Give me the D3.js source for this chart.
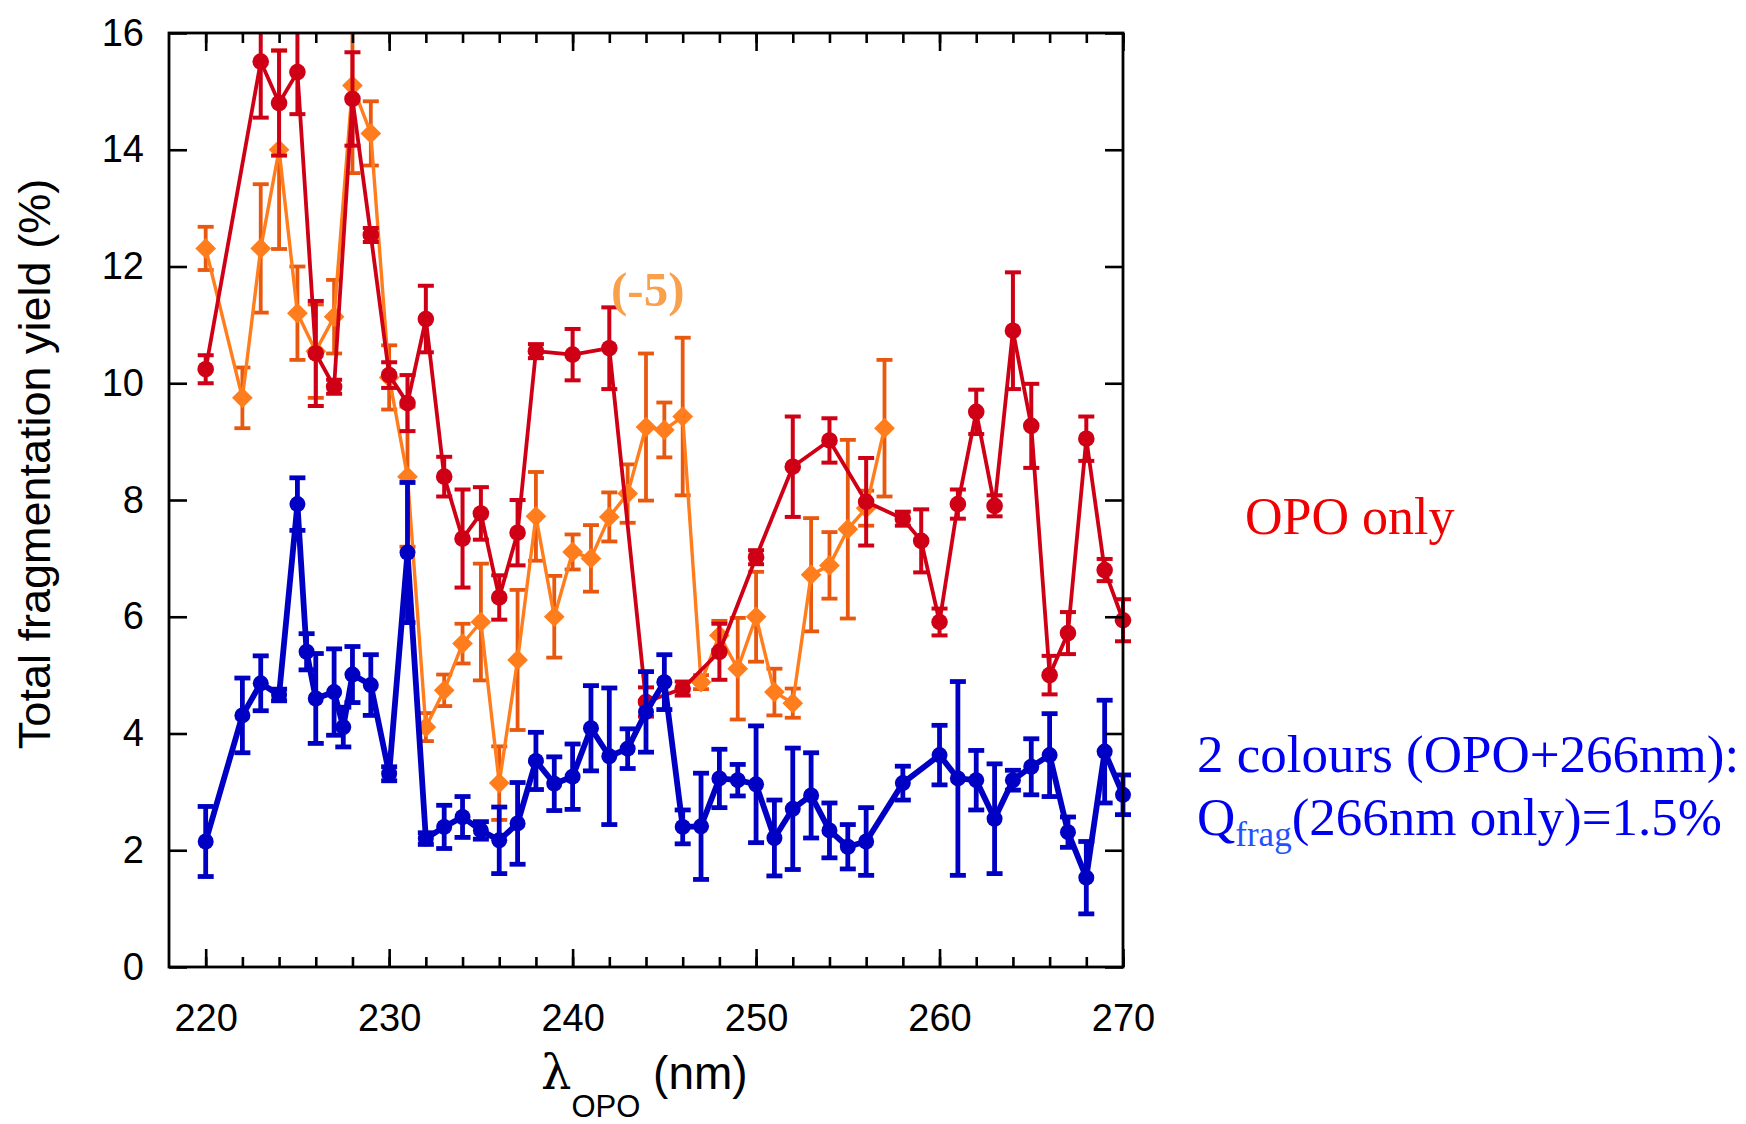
<!DOCTYPE html>
<html>
<head>
<meta charset="utf-8">
<script src="https://cdn.jsdelivr.net/npm/d3@7"></script>
<style>
  body { margin: 0; background: #fff; }
  svg { display: block; }
</style>
</head>
<body>
<svg id="chart"></svg>
<script>
// OPO only (red)
let opoWl = [220, 223, 224, 225, 226, 227, 228, 229, 230, 231, 232, 233, 234, 235, 236, 237, 238, 240, 242, 244,
    246, 248, 250, 252, 254, 256, 258, 259, 260, 261, 262, 263, 264, 265, 266, 267, 268, 269, 270];
let opoYield = [10.24, 15.51, 14.8, 15.33, 10.51, 9.94, 14.87, 12.54, 10.14, 9.66, 11.1, 8.4, 7.34, 7.77, 6.33, 7.44, 10.55, 10.49, 10.6, 4.54,
    4.77, 5.4, 7.02, 8.57, 9.02, 7.97, 7.68, 7.3, 5.91, 7.93, 9.51, 7.9, 10.9, 9.27, 5.0, 5.72, 9.05, 6.8, 5.94];
let opoErr = [0.24, 0.96, 0.9, 0.72, 0.9, 0.12, 0.8, 0.12, 0.22, 0.48, 0.57, 0.34, 0.84, 0.45, 0.38, 0.56, 0.12, 0.44, 0.7, 0.25,
    0.12, 0.48, 0.12, 0.86, 0.38, 0.75, 0.12, 0.54, 0.23, 0.25, 0.38, 0.18, 1.0, 0.72, 0.33, 0.36, 0.38, 0.19, 0.36];

// shifted series "(-5)" (orange)
let shiftWl = [220, 222, 223, 224, 225, 226, 227, 228, 229, 230, 231, 232, 233, 234, 235, 236, 237, 238, 239, 240,
    241, 242, 243, 244, 245, 246, 247, 248, 249, 250, 251, 252, 253, 254, 255, 256, 257];
let shiftYield = [12.31, 9.75, 12.31, 14.0, 11.2, 10.55, 11.14, 15.1, 14.28, 10.1, 8.4, 4.11, 4.74, 5.54, 5.91, 3.15, 5.26, 7.72, 6.0, 7.11,
    7.0, 7.71, 8.11, 9.25, 9.2, 9.43, 4.88, 5.68, 5.11, 6.0, 4.71, 4.52, 6.72, 6.88, 7.5, 7.86, 9.23];
let shiftErr = [0.37, 0.52, 1.1, 1.7, 0.8, 0.8, 0.63, 1.5, 0.55, 0.55, 1.2, 0.24, 0.27, 0.34, 1.0, 0.63, 1.2, 0.76, 0.7, 0.3,
    0.57, 0.42, 0.5, 1.26, 0.47, 1.35, 0.12, 0.25, 0.87, 0.77, 0.4, 0.25, 0.97, 0.57, 1.53, 0.3, 1.17];

// 2 colours OPO+266nm (blue)
let twoColWl = [220, 222, 223, 224, 225, 225.5, 226, 227, 227.5, 228, 229, 230, 231, 232, 233, 234, 235, 236, 237, 238,
    239, 240, 241, 242, 243, 244, 245, 246, 247, 248, 249, 250, 251, 252, 253, 254, 255, 256, 258, 260,
    261, 262, 263, 264, 265, 266, 267, 268, 269, 270];
let twoColYield = [2.15, 4.31, 4.86, 4.66, 7.93, 5.4, 4.6, 4.71, 4.11, 5.01, 4.83, 3.31, 7.1, 2.2, 2.4, 2.57, 2.34, 2.17, 2.46, 3.53,
    3.14, 3.26, 4.09, 3.61, 3.74, 4.37, 4.88, 2.4, 2.41, 3.23, 3.2, 3.13, 2.21, 2.71, 2.94, 2.34, 2.06, 2.15, 3.15, 3.63,
    3.23, 3.2, 2.54, 3.2, 3.43, 3.63, 2.31, 1.53, 3.69, 2.95];
let twoColErr = [0.6, 0.64, 0.47, 0.1, 0.45, 0.31, 0.77, 0.74, 0.34, 0.48, 0.52, 0.12, 1.2, 0.1, 0.37, 0.35, 0.15, 0.57, 0.7, 0.49,
    0.46, 0.56, 0.73, 1.17, 0.34, 0.69, 0.47, 0.29, 0.91, 0.5, 0.27, 1.0, 0.65, 1.04, 0.73, 0.47, 0.38, 0.58, 0.29, 0.51,
    1.66, 0.51, 0.94, 0.17, 0.48, 0.71, 0.26, 0.62, 0.88, 0.34];

let xMajor = [220, 230, 240, 250, 260, 270];
let xMinor = d3.range(220, 271, 2);
let yTicks = [0, 2, 4, 6, 8, 10, 12, 14, 16];

function drawChart() {
    let w = 1746, h = 1124;
    let left = 169, right = 1123, top = 33, bottom = 967;

    let svg = d3.select("#chart")
        .attr("width", w)
        .attr("height", h);

    let x = d3.scaleLinear().domain([218, 270]).range([left, right]);
    let y = d3.scaleLinear().domain([0, 16]).range([bottom, top]);

    // clip only at the top: bars above 16 get cut, end markers may overhang the right axis
    svg.append("defs").append("clipPath").attr("id", "plotclip")
        .append("rect")
        .attr("x", 0).attr("y", top)
        .attr("width", w).attr("height", bottom - top);

    let plot = svg.append("g").attr("clip-path", "url(#plotclip)");

    let zip = (xs, ys, es) => xs.map((v, i) => ({ x: v, y: ys[i], e: es[i] }));

    let series = [
        { data: zip(shiftWl, shiftYield, shiftErr), line: "#ff7d1c", err: "#e8580e", width: 3.4, errWidth: 3.8, marker: "diamond" },
        { data: zip(opoWl, opoYield, opoErr), line: "#cf0015", err: "#cf0015", width: 3.8, errWidth: 4, marker: "circle", r: 8.3 },
        { data: zip(twoColWl, twoColYield, twoColErr), line: "#0000c4", err: "#0000c4", width: 5.8, errWidth: 4.8, marker: "circle", r: 8 }
    ];

    let line = d3.line().x(d => x(d.x)).y(d => y(d.y));
    let cap = 8;

    series.forEach(s => {
        let g = plot.append("g");

        let bars = g.append("g").selectAll("g")
            .data(s.data)
            .enter()
            .append("g")
            .attr("stroke", s.err)
            .attr("stroke-width", s.errWidth);
        bars.append("line")
            .attr("x1", d => x(d.x)).attr("x2", d => x(d.x))
            .attr("y1", d => y(d.y + d.e)).attr("y2", d => y(d.y - d.e));
        bars.append("line")
            .attr("x1", d => x(d.x) - cap).attr("x2", d => x(d.x) + cap)
            .attr("y1", d => y(d.y + d.e)).attr("y2", d => y(d.y + d.e));
        bars.append("line")
            .attr("x1", d => x(d.x) - cap).attr("x2", d => x(d.x) + cap)
            .attr("y1", d => y(d.y - d.e)).attr("y2", d => y(d.y - d.e));

        g.append("path")
            .datum(s.data)
            .attr("fill", "none")
            .attr("stroke", s.line)
            .attr("stroke-width", s.width)
            .attr("stroke-linejoin", "round")
            .attr("d", line);

        if (s.marker == "circle") {
            g.append("g").selectAll("circle")
                .data(s.data)
                .enter()
                .append("circle")
                .attr("cx", d => x(d.x))
                .attr("cy", d => y(d.y))
                .attr("r", s.r)
                .attr("fill", s.line);
        } else {
            let sym = d3.symbol().type(d3.symbolSquare).size(215);
            g.append("g").selectAll("path")
                .data(s.data)
                .enter()
                .append("path")
                .attr("d", sym)
                .attr("transform", d => `translate(${x(d.x)},${y(d.y)}) rotate(45)`)
                .attr("fill", s.line);
        }
    });

    // axes, ticks point inward
    let axisFont = "'Liberation Sans', Arial, sans-serif";

    let xMinAxis = svg.append("g").attr("transform", `translate(0,${bottom})`)
        .call(d3.axisBottom(x).tickValues(xMinor).tickSize(-10).tickFormat(""));
    let xMajAxis = svg.append("g").attr("transform", `translate(0,${bottom})`)
        .call(d3.axisBottom(x).tickValues(xMajor).tickSize(-18).tickPadding(37).tickFormat(d3.format("d")));
    let xTopMin = svg.append("g").attr("transform", `translate(0,${top})`)
        .call(d3.axisTop(x).tickValues(xMinor).tickSize(-10).tickFormat(""));
    let xTopMaj = svg.append("g").attr("transform", `translate(0,${top})`)
        .call(d3.axisTop(x).tickValues(xMajor).tickSize(-18).tickFormat(""));
    let yAxis = svg.append("g").attr("transform", `translate(${left},0)`)
        .call(d3.axisLeft(y).tickValues(yTicks).tickSize(-18).tickPadding(25).tickFormat(d3.format("d")));
    let yRight = svg.append("g").attr("transform", `translate(${right},0)`)
        .call(d3.axisRight(y).tickValues(yTicks).tickSize(-18).tickFormat(""));

    [xMinAxis, xMajAxis, xTopMin, xTopMaj, yAxis, yRight].forEach(a => {
        a.select(".domain").remove();
        a.selectAll(".tick line").attr("stroke", "#000").attr("stroke-width", 2.6);
        a.selectAll(".tick text")
            .attr("fill", "#000")
            .style("font-family", axisFont)
            .style("font-size", "38px");
    });

    svg.append("rect")
        .attr("x", left).attr("y", top)
        .attr("width", right - left).attr("height", bottom - top)
        .attr("fill", "none")
        .attr("stroke", "#000")
        .attr("stroke-width", 2.8);

    // axis titles
    svg.append("text")
        .attr("transform", "translate(50,464) rotate(-90)")
        .attr("text-anchor", "middle")
        .style("font-family", axisFont)
        .style("font-size", "45px")
        .text("Total fragmentation yield (%)");

    let xt = svg.append("text")
        .attr("x", 541).attr("y", 1089)
        .style("font-family", axisFont)
        .style("font-size", "46px");
    xt.append("tspan").style("font-family", "'DejaVu Serif', serif").style("font-size", "48px").text("λ");
    xt.append("tspan").attr("dy", 28).style("font-size", "31px").text("OPO");
    xt.append("tspan").attr("dy", -28).text(" (nm)");

    // annotations
    let serif = "'Liberation Serif', 'Times New Roman', serif";

    svg.append("text")
        .attr("x", 611).attr("y", 306)
        .style("font-family", serif)
        .style("font-weight", "bold")
        .style("font-size", "49px")
        .attr("fill", "#f9a04c")
        .text("(-5)");

    svg.append("text")
        .attr("x", 1245).attr("y", 534)
        .style("font-family", serif)
        .style("font-size", "52px")
        .attr("fill", "#f00000")
        .text("OPO only");

    svg.append("text")
        .attr("x", 1197).attr("y", 772)
        .style("font-family", serif)
        .style("font-size", "53px")
        .attr("fill", "#0000f0")
        .text("2 colours (OPO+266nm):");

    let q = svg.append("text")
        .attr("x", 1197).attr("y", 835)
        .style("font-family", serif)
        .style("font-size", "53px")
        .attr("fill", "#0000f0");
    q.append("tspan").text("Q");
    q.append("tspan").attr("dy", 11).style("font-size", "35px").attr("fill", "#2450ff").text("frag");
    q.append("tspan").attr("dy", -11).text("(266nm only)=1.5%");
}

window.onload = function() {
    drawChart();
}
</script>
</body>
</html>
